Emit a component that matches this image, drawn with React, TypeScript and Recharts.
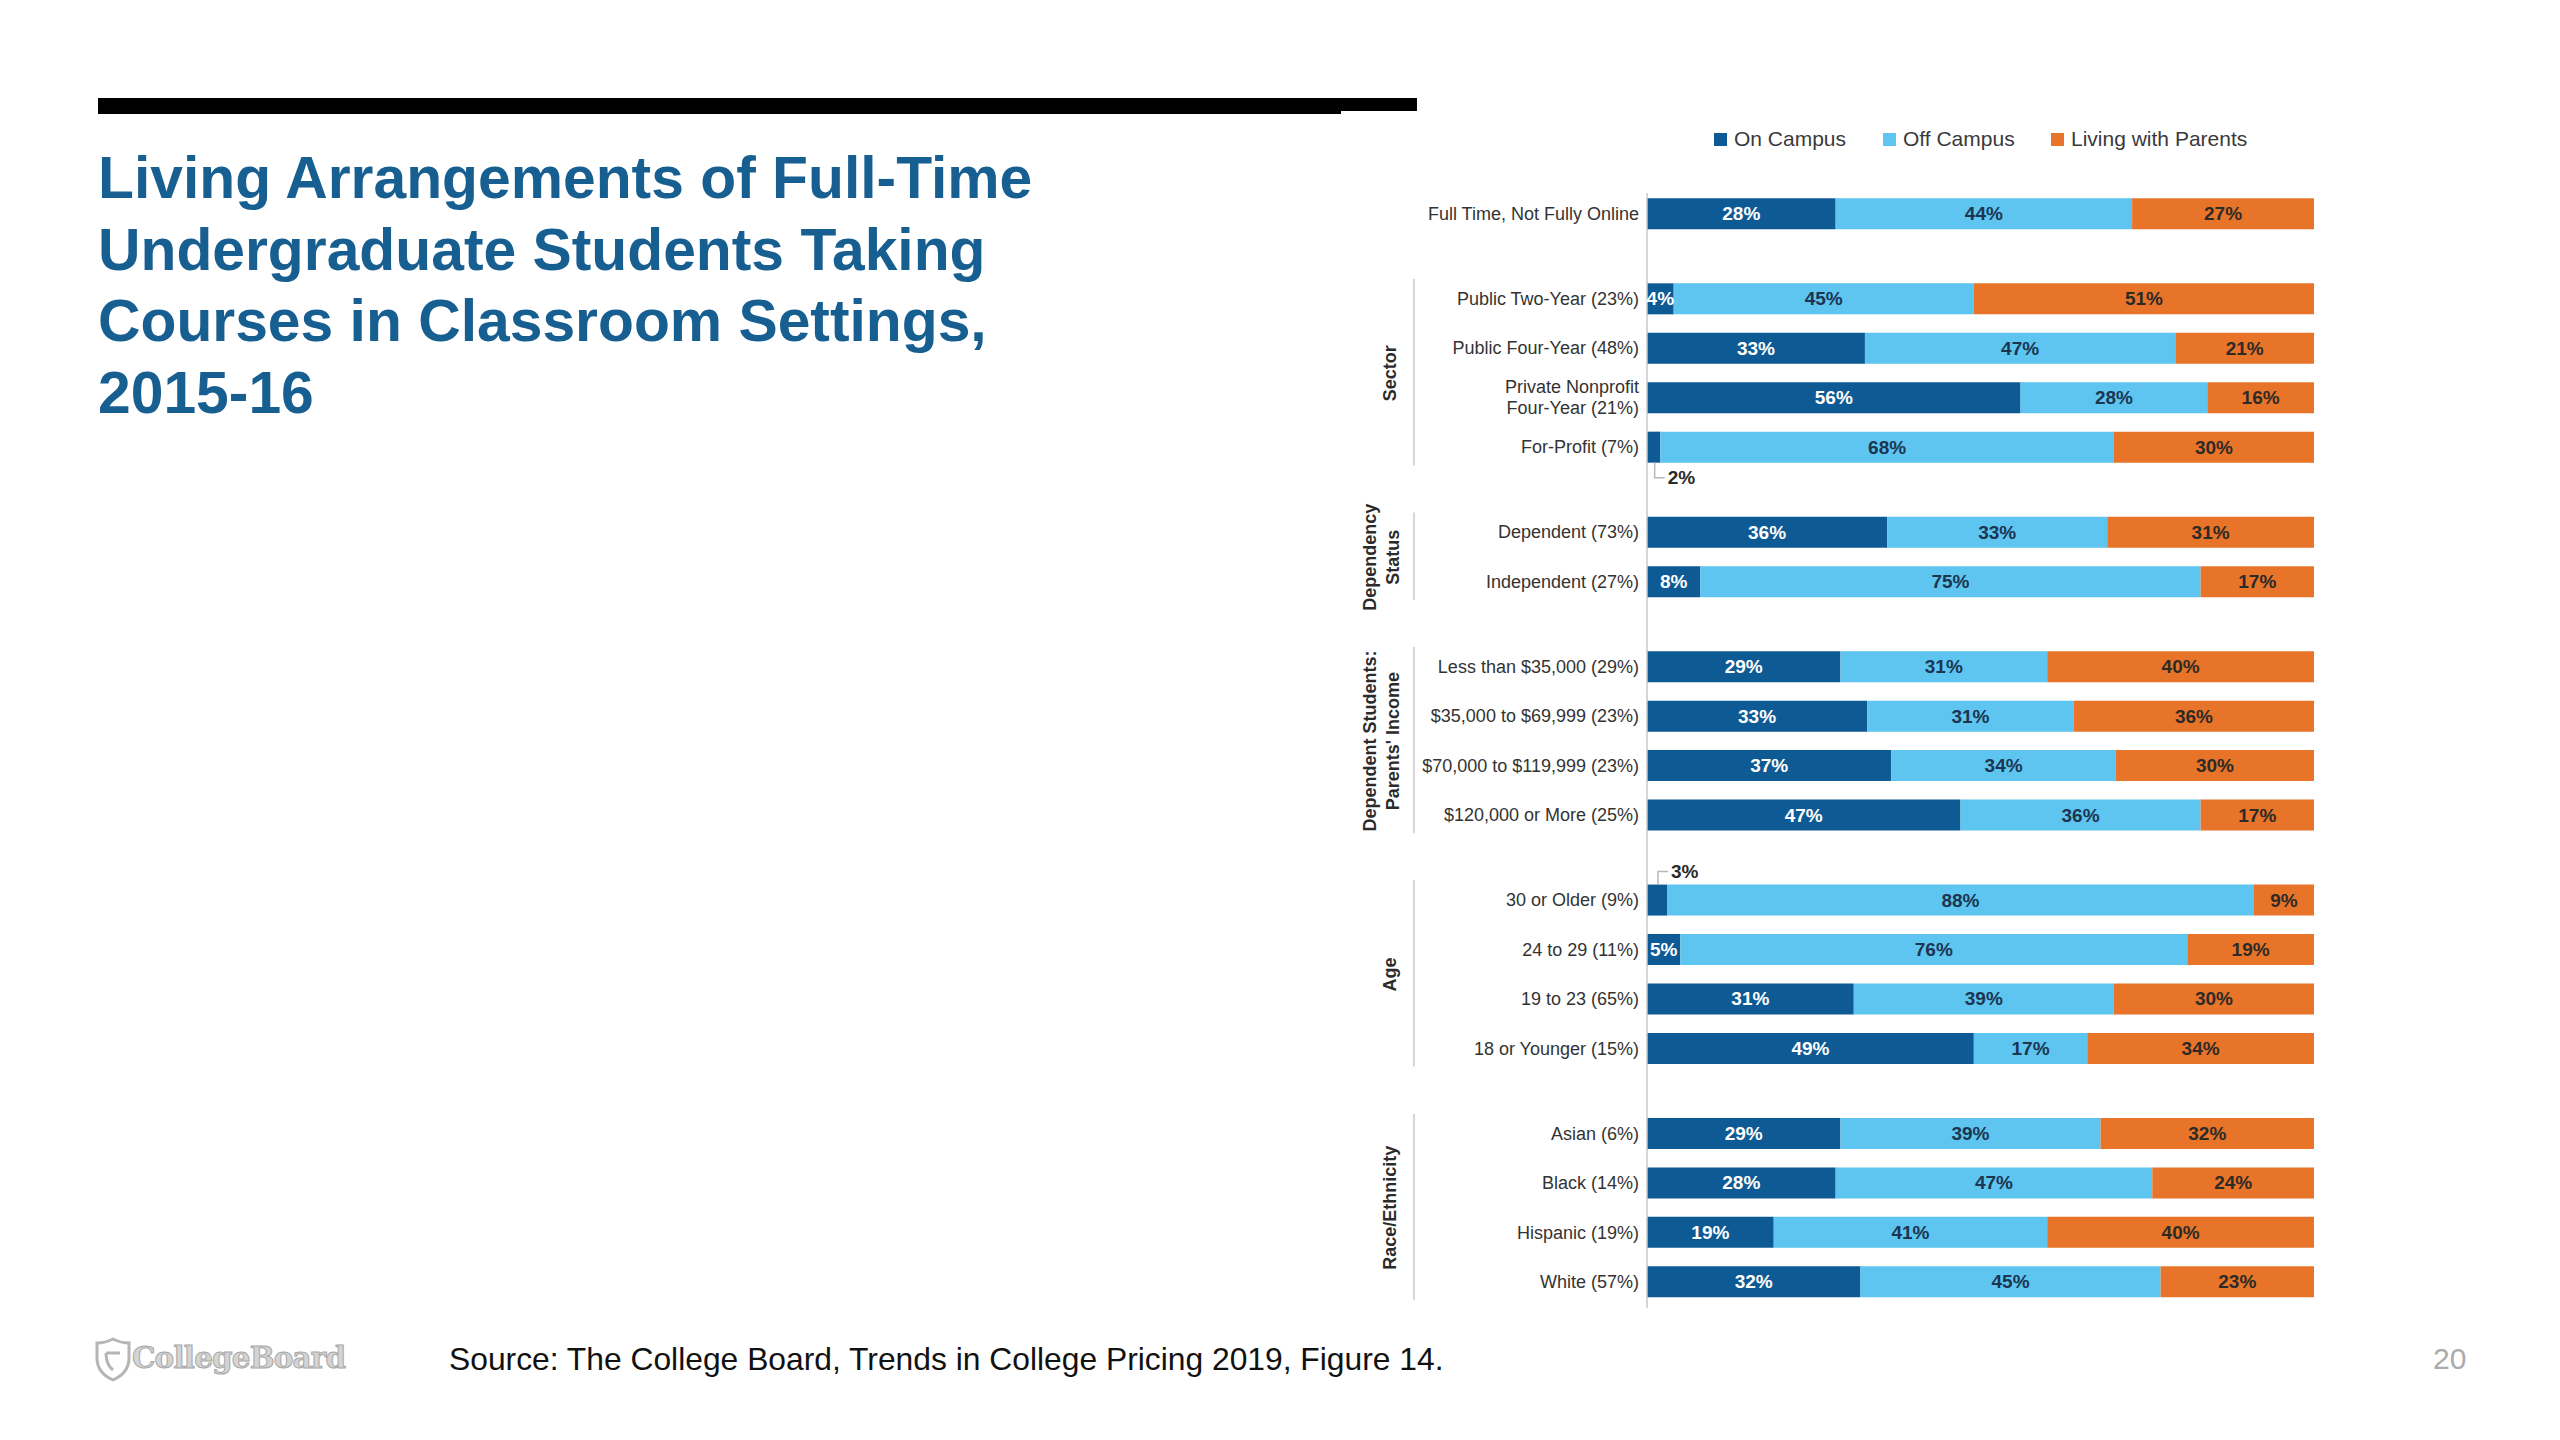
import React from 'react';
import { BarChart, Bar, XAxis, YAxis, LabelList } from 'recharts';

// ---------- data ----------
const rowLabels = [
  'Full Time, Not Fully Online',
  'Public Two-Year (23%)',
  'Public Four-Year (48%)',
  'Private Nonprofit\nFour-Year (21%)',
  'For-Profit (7%)',
  'Dependent (73%)',
  'Independent (27%)',
  'Less than $35,000 (29%)',
  '$35,000 to $69,999 (23%)',
  '$70,000 to $119,999 (23%)',
  '$120,000 or More (25%)',
  '30 or Older (9%)',
  '24 to 29 (11%)',
  '19 to 23 (65%)',
  '18 or Younger (15%)',
  'Asian (6%)',
  'Black (14%)',
  'Hispanic (19%)',
  'White (57%)',
];
const onCampus = [28, 4, 33, 56, 2, 36, 8, 29, 33, 37, 47, 3, 5, 31, 49, 29, 28, 19, 32];
const offCampus = [44, 45, 47, 28, 68, 33, 75, 31, 31, 34, 36, 88, 76, 39, 17, 39, 47, 41, 45];
const withParents = [27, 51, 21, 16, 30, 31, 17, 40, 36, 30, 17, 9, 19, 30, 34, 32, 24, 40, 23];
const groupNames = ['', 'Sector', 'Dependency\nStatus', "Dependent Students:\nParents' Income", 'Age', 'Race/Ethnicity'];
const groupSizes = [1, 4, 2, 4, 4, 4];
const seriesNames = ['On Campus', 'Off Campus', 'Living with Parents'];

// ---------- styles / layout ----------
const FONT = '"Liberation Sans", Arial, Helvetica, sans-serif';
const COLORS = ['#0e5a94', '#5dc5f0', '#e8742a'];
const LABEL_COLORS = ['#ffffff', '#1c3551', '#2e2a26'];

const CHART_LEFT = 1300;
const CHART_TOP = 100;
const CHART_W = 1100;
const CHART_H = 1250;
const MARGIN = { top: 93, right: 86, bottom: 42, left: 0 };
const Y_AXIS_W = 347;
const GROUP_GAP = 0.72;
const DOMAIN_MIN = -0.425;
const DOMAIN_MAX = 22.126;
const PLOT_H = CHART_H - MARGIN.top - MARGIN.bottom;
const UNIT_PX = PLOT_H / (DOMAIN_MAX - DOMAIN_MIN);
const BAR_SIZE = 31;

type Row = {
  label: string;
  pos: number;
  group: number;
  first: boolean;
  groupSize: number;
  onCampus: number;
  offCampus: number;
  withParents: number;
};

const rows: Row[] = [];
{
  let idx = 0;
  groupSizes.forEach((size, g) => {
    for (let k = 0; k < size; k++) {
      rows.push({
        label: rowLabels[idx],
        pos: idx + g * GROUP_GAP,
        group: g,
        first: k === 0,
        groupSize: size,
        onCampus: onCampus[idx],
        offCampus: offCampus[idx],
        withParents: withParents[idx],
      });
      idx++;
    }
  });
}

const findRow = (v: number) => rows.find((r) => Math.abs(r.pos - v) < 1e-6);

const RowTick = (props: any) => {
  const { x, y, payload } = props;
  const row = findRow(payload.value);
  if (!row) return null;
  const lines = row.label.split('\n');
  const lh = 21;
  const out: any[] = [];
  lines.forEach((ln, k) => {
    out.push(
      <text
        key={'l' + k}
        x={x}
        y={y + (k - (lines.length - 1) / 2) * lh}
        textAnchor="end"
        dominantBaseline="central"
        fill="#333"
        fontSize={18}
        fontFamily={FONT}
      >
        {ln}
      </text>
    );
  });
  const gname = groupNames[row.group];
  if (row.first && gname) {
    const span = (row.groupSize - 1) * UNIT_PX;
    const bx = 1414 - CHART_LEFT;
    out.push(
      <line key="br" x1={bx} x2={bx} y1={y - 20} y2={y + span + 18} stroke="#c8c8c8" strokeWidth={1.5} />
    );
    const gl = gname.split('\n');
    const cy = y + span / 2;
    const xs = gl.length === 1 ? [1390 - CHART_LEFT] : [1370 - CHART_LEFT, 1393 - CHART_LEFT];
    gl.forEach((t, k) => {
      out.push(
        <text
          key={'g' + k}
          x={xs[k]}
          y={cy}
          transform={`rotate(-90, ${xs[k]}, ${cy})`}
          textAnchor="middle"
          dominantBaseline="central"
          fill="#2b2b2b"
          fontSize={18}
          fontWeight={700}
          fontFamily={FONT}
        >
          {t}
        </text>
      );
    });
  }
  return <g>{out}</g>;
};

const getBox = (props: any) => {
  const vb = props.viewBox || {};
  return {
    x: props.x ?? vb.x,
    y: props.y ?? vb.y,
    width: props.width ?? vb.width,
    height: props.height ?? vb.height,
  };
};

const makeLabel = (color: string) => (props: any) => {
  const { x, y, width, height } = getBox(props);
  const { value } = props;
  if (value == null) return null;
  return (
    <text
      x={x + width / 2}
      y={y + height / 2}
      textAnchor="middle"
      dominantBaseline="central"
      fill={color}
      fontSize={19}
      fontWeight={700}
      fontFamily={FONT}
    >
      {value}%
    </text>
  );
};

const OnCampusLabel = (props: any) => {
  const { x, y, width, height } = getBox(props);
  const { value, index } = props;
  if (value == null) return null;
  if (value >= 4) return makeLabel(LABEL_COLORS[0])(props);
  const row = rows[index];
  const above = row ? row.first : false;
  const cx = x + width / 2 + 1;
  const ty = above ? y - 13 : y + height + 15;
  const tx = cx + 13;
  const pts = above
    ? `${tx - 3},${ty} ${cx},${ty} ${cx},${y}`
    : `${cx},${y + height} ${cx},${ty} ${tx - 3},${ty}`;
  return (
    <g>
      <polyline points={pts} fill="none" stroke="#b8b8b8" strokeWidth={1.5} />
      <text
        x={tx}
        y={ty}
        textAnchor="start"
        dominantBaseline="central"
        fill="#2a2a2a"
        fontSize={19}
        fontWeight={700}
        fontFamily={FONT}
      >
        {value}%
      </text>
    </g>
  );
};

const legendLefts = [1714, 1883, 2051];

export default function App() {
  return (
    <div
      style={{
        position: 'absolute',
        left: 0,
        top: 0,
        width: 2560,
        height: 1440,
        background: '#ffffff',
        fontFamily: FONT,
        overflow: 'hidden',
      }}
    >
      {/* top rule */}
      <div style={{ position: 'absolute', left: 98, top: 98, width: 1243, height: 16, background: '#000' }} />
      <div style={{ position: 'absolute', left: 1341, top: 98, width: 76, height: 13, background: '#000' }} />

      {/* title */}
      <div
        style={{
          position: 'absolute',
          left: 98,
          top: 142,
          fontSize: 58.8,
          lineHeight: '71.5px',
          fontWeight: 700,
          color: '#175e91',
          whiteSpace: 'nowrap',
        }}
      >
        Living Arrangements of Full-Time
        <br />
        Undergraduate Students Taking
        <br />
        Courses in Classroom Settings,
        <br />
        2015-16
      </div>

      {/* legend */}
      {seriesNames.map((n, i) => (
        <div
          key={n}
          style={{
            position: 'absolute',
            left: legendLefts[i],
            top: 127,
            height: 24,
            display: 'flex',
            alignItems: 'center',
            fontSize: 21,
            color: '#3a3a3a',
            whiteSpace: 'nowrap',
          }}
        >
          <span style={{ display: 'inline-block', width: 13, height: 13, background: COLORS[i], marginRight: 7 }} />
          {n}
        </div>
      ))}

      {/* chart */}
      <div style={{ position: 'absolute', left: CHART_LEFT, top: CHART_TOP, width: CHART_W, height: CHART_H }}>
        <BarChart
          width={CHART_W}
          height={CHART_H}
          data={rows}
          layout="vertical"
          stackOffset="expand"
          margin={MARGIN}
        >
          <XAxis type="number" hide domain={[0, 1]} />
          <YAxis
            type="number"
            dataKey="pos"
            domain={[DOMAIN_MIN, DOMAIN_MAX]}
            allowDataOverflow
            ticks={rows.map((r) => r.pos)}
            interval={0}
            width={Y_AXIS_W}
            tickLine={false}
            axisLine={{ stroke: '#c9c9c9', strokeWidth: 1.5 }}
            tick={(p: any) => <RowTick {...p} />}
          />
          <Bar dataKey="onCampus" name={seriesNames[0]} stackId="s" fill={COLORS[0]} barSize={BAR_SIZE} isAnimationActive={false}>
            <LabelList dataKey="onCampus" content={OnCampusLabel} />
          </Bar>
          <Bar dataKey="offCampus" name={seriesNames[1]} stackId="s" fill={COLORS[1]} barSize={BAR_SIZE} isAnimationActive={false}>
            <LabelList dataKey="offCampus" content={makeLabel(LABEL_COLORS[1])} />
          </Bar>
          <Bar dataKey="withParents" name={seriesNames[2]} stackId="s" fill={COLORS[2]} barSize={BAR_SIZE} isAnimationActive={false}>
            <LabelList dataKey="withParents" content={makeLabel(LABEL_COLORS[2])} />
          </Bar>
        </BarChart>
      </div>

      {/* footer */}
      <svg style={{ position: 'absolute', left: 93, top: 1336 }} width={40} height={46} viewBox="0 0 40 46">
        <path
          d="M20 3 C26 6 32 7 36 7 L36 22 C36 33 29 40 20 44 C11 40 4 33 4 22 L4 7 C8 7 14 6 20 3 Z"
          fill="none"
          stroke="#b5b5b5"
          strokeWidth={3}
        />
        <path d="M13 17 L27 17 M13 17 C13 26 16 31 20 34" fill="none" stroke="#b5b5b5" strokeWidth={3} />
      </svg>
      <div
        style={{
          position: 'absolute',
          left: 132,
          top: 1339,
          fontSize: 29.4,
          lineHeight: '38px',
          fontFamily: '"DejaVu Serif", serif',
          fontWeight: 700,
          color: '#d4d4d4',
          WebkitTextStroke: '1px #a8a8a8',
          letterSpacing: -0.8,
          whiteSpace: 'nowrap',
        }}
      >
        CollegeBoard
      </div>
      <div
        style={{
          position: 'absolute',
          left: 449,
          top: 1339,
          fontSize: 31.8,
          lineHeight: '40px',
          color: '#111',
          whiteSpace: 'nowrap',
        }}
      >
        Source: The College Board, Trends in College Pricing 2019, Figure 14.
      </div>
      <div
        style={{
          position: 'absolute',
          left: 2433,
          top: 1341,
          fontSize: 30,
          lineHeight: '36px',
          color: '#ababab',
          whiteSpace: 'nowrap',
        }}
      >
        20
      </div>
    </div>
  );
}
